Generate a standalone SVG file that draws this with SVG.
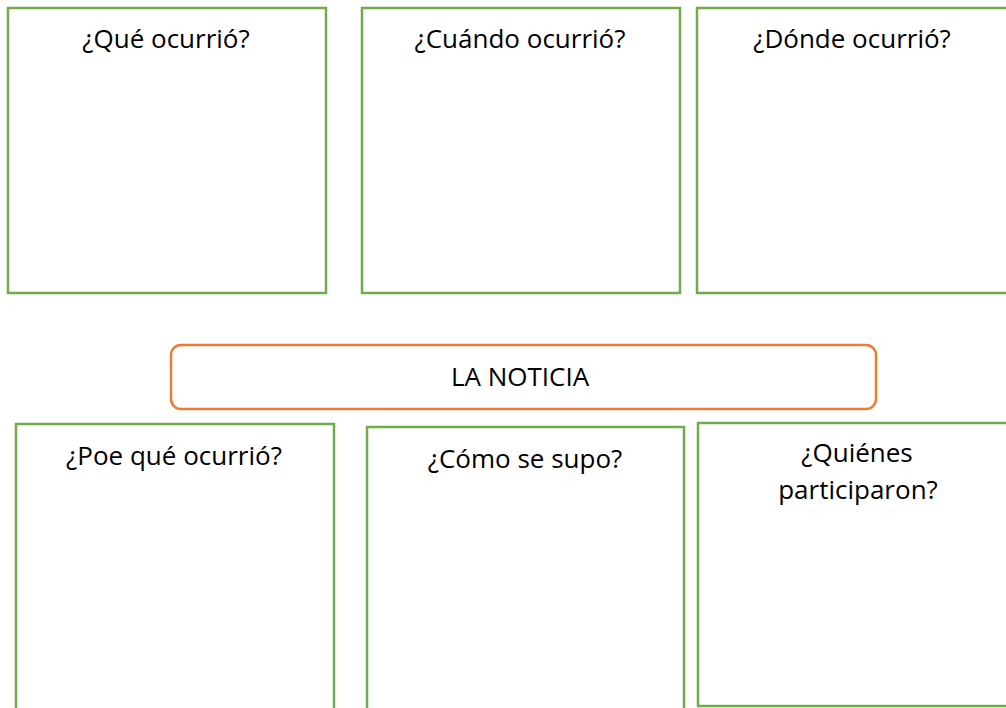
<svg xmlns="http://www.w3.org/2000/svg" width="1006" height="708" viewBox="0 0 1006 708">
<style>
.box{fill:#fff;stroke:#70AD47;stroke-width:2.5}
.main{fill:#fff;stroke:#ED7D31;stroke-width:2.5}
text{font-family:"Open Sans","Liberation Sans",sans-serif;font-size:26px;fill:#000;text-anchor:middle}
</style>
<rect width="1006" height="708" fill="#fff"/>
<g id="que"><rect class="box" x="8" y="8" width="318" height="285"/><text x="166" y="48">¿Qué ocurrió?</text></g>
<g id="cuando"><rect class="box" x="362" y="8" width="318" height="285"/><text x="520" y="48">¿Cuándo ocurrió?</text></g>
<g id="donde"><rect class="box" x="697" y="8" width="320" height="285"/><text x="852" y="48">¿Dónde ocurrió?</text></g>
<g id="noticia"><rect class="main" x="171" y="345" width="705" height="64" rx="10"/><text x="520" y="386">LA NOTICIA</text></g>
<g id="porque"><rect class="box" x="16" y="424" width="318" height="300"/><text x="174" y="465">¿Poe qué ocurrió?</text></g>
<g id="como"><rect class="box" x="367" y="427" width="317" height="300"/><text x="525" y="468">¿Cómo se supo?</text></g>
<g id="quienes"><rect class="box" x="698" y="423" width="320" height="283"/><text x="857" y="462">¿Quiénes</text><text x="858" y="499">participaron?</text></g>
<g id="connectors"/>
</svg>
